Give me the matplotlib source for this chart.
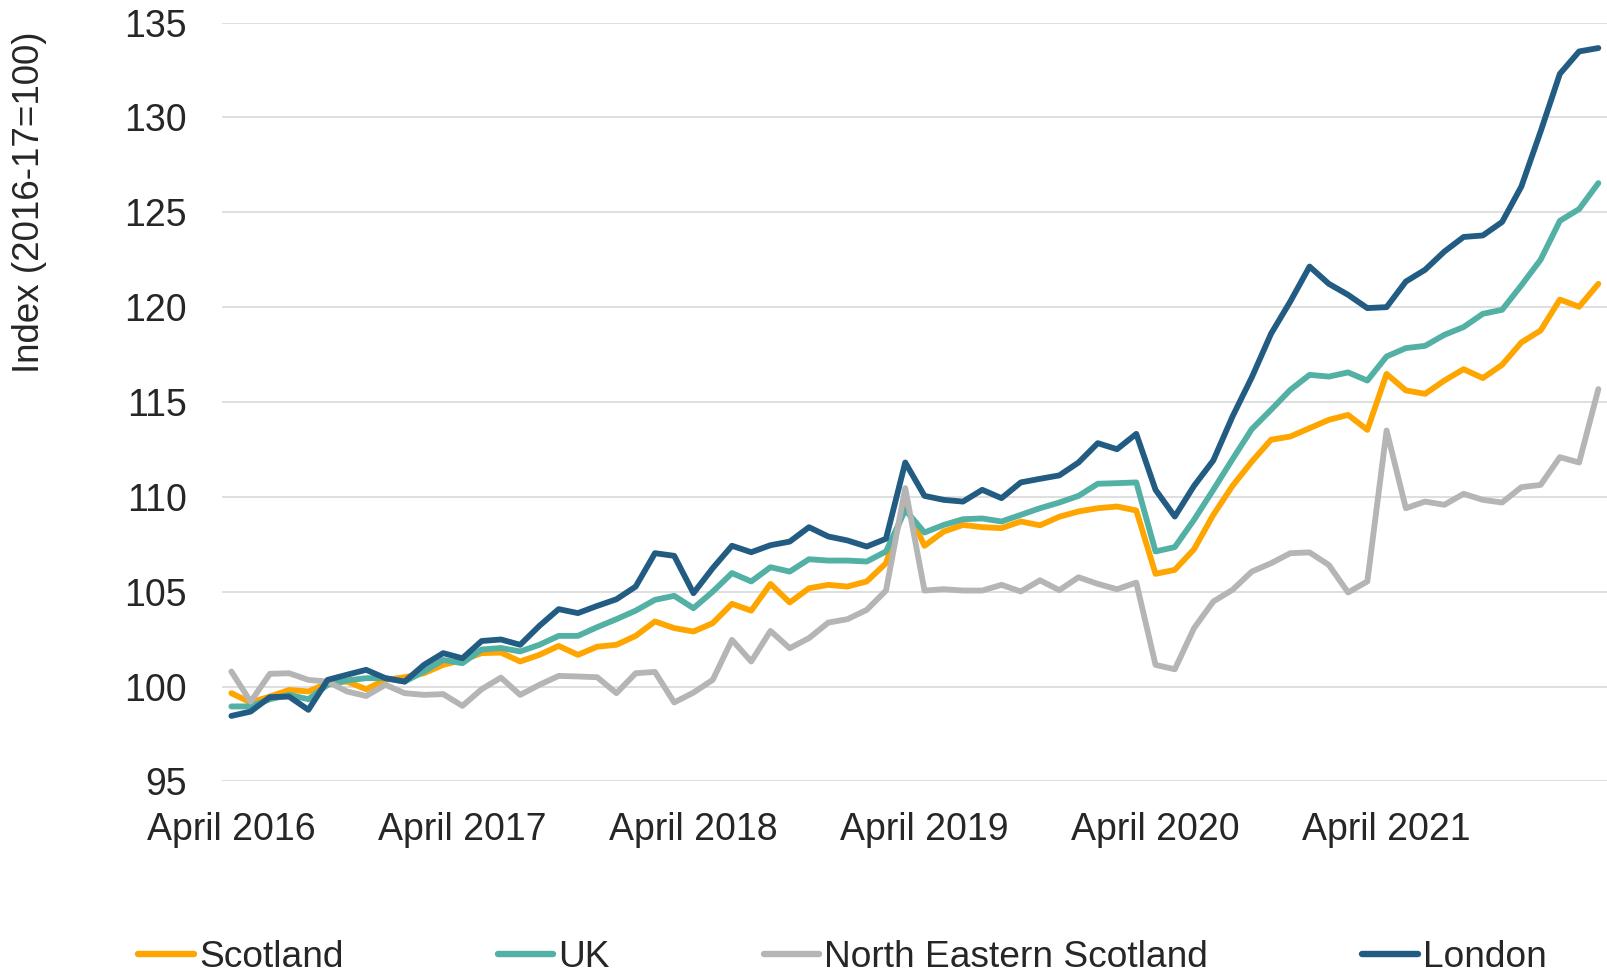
import numpy as np
import matplotlib.pyplot as plt

# monthly index, April 2016 to March 2022 (2016-17 = 100)
scotland = [99.65, 99.16, 99.47, 99.82, 99.74, 100.18, 100.26, 99.86, 100.35, 100.49, 100.7, 101.14,
            101.4, 101.76, 101.79, 101.32, 101.67, 102.14, 101.67, 102.1, 102.2, 102.67, 103.43, 103.08,
            102.9, 103.34, 104.36, 104.0, 105.41, 104.43, 105.18, 105.36, 105.27, 105.54, 106.5, 109.58,
            107.42, 108.17, 108.52, 108.4, 108.35, 108.7, 108.5, 108.95, 109.23, 109.4, 109.49, 109.28,
            105.94, 106.15, 107.24, 109.05, 110.58, 111.86, 113.01, 113.18, 113.62, 114.06, 114.32, 113.53,
            116.48, 115.61, 115.43, 116.13, 116.73, 116.26, 116.96, 118.14, 118.77, 120.4, 120.02, 121.23]
uk = [98.95, 98.95, 99.33, 99.56, 99.33, 100.09, 100.32, 100.44, 100.44, 100.26, 100.79, 101.4,
      101.23, 101.95, 102.03, 101.85, 102.2, 102.67, 102.67, 103.13, 103.55, 104.0, 104.57, 104.78,
      104.13, 105.0, 105.98, 105.54, 106.29, 106.06, 106.71, 106.64, 106.64, 106.59, 107.12, 109.31,
      108.12, 108.52, 108.82, 108.86, 108.7, 109.05, 109.4, 109.7, 110.05, 110.69, 110.72, 110.76,
      107.12, 107.35, 108.79, 110.37, 111.99, 113.57, 114.59, 115.64, 116.43, 116.34, 116.56, 116.13,
      117.4, 117.84, 117.96, 118.54, 118.95, 119.65, 119.86, 121.15, 122.5, 124.55, 125.17, 126.54]
ne_scotland = [100.79, 99.2, 100.67, 100.7, 100.35, 100.26, 99.74, 99.5, 100.09, 99.65, 99.56, 99.6,
               98.98, 99.86, 100.47, 99.56, 100.09, 100.56, 100.53, 100.49, 99.65, 100.7, 100.77, 99.16,
               99.68, 100.35, 102.46, 101.32, 102.93, 102.02, 102.55, 103.37, 103.55, 104.04, 105.06, 110.46,
               105.06, 105.13, 105.06, 105.06, 105.36, 105.01, 105.6, 105.08, 105.76, 105.41, 105.13, 105.48,
               101.14, 100.91, 103.08, 104.48, 105.1, 106.06, 106.5, 107.03, 107.07, 106.41, 104.96, 105.54,
               113.5, 109.4, 109.75, 109.58, 110.16, 109.84, 109.7, 110.51, 110.63, 112.09, 111.81, 115.68]
london = [98.45, 98.68, 99.44, 99.47, 98.77, 100.35, 100.62, 100.88, 100.44, 100.26, 101.14, 101.76,
          101.49, 102.4, 102.48, 102.2, 103.2, 104.08, 103.87, 104.25, 104.6, 105.27, 107.03, 106.89,
          104.92, 106.24, 107.42, 107.08, 107.45, 107.64, 108.4, 107.91, 107.7, 107.38, 107.79, 111.81,
          110.05, 109.84, 109.75, 110.37, 109.93, 110.76, 110.95, 111.13, 111.81, 112.83, 112.51, 113.32,
          110.37, 108.96, 110.58, 111.92, 114.24, 116.3, 118.6, 120.3, 122.14, 121.23, 120.65, 119.95,
          120.0, 121.35, 121.97, 122.93, 123.7, 123.78, 124.49, 126.36, 129.26, 132.3, 133.48, 133.66]

series_names = ['Scotland', 'UK', 'North Eastern Scotland', 'London']
series_colors = ['#FFA500', '#52B0A4', '#B5B5B5', '#235C82']
tick_labels = ['April 2016', 'April 2017', 'April 2018', 'April 2019', 'April 2020', 'April 2021']

plt.rcParams['font.family'] = ['Liberation Sans', 'DejaVu Sans']
TXT = '#262626'

fig = plt.figure(figsize=(16.08, 9.75), dpi=100)
ax = fig.add_axes([0.1379, 0.1986, 0.8621, 0.7782])

x = np.arange(len(scotland))
for vals, name, col in zip([scotland, uk, ne_scotland, london], series_names, series_colors):
    ax.plot(x, vals, color=col, lw=4.2, label=name,
            solid_capstyle='round', solid_joinstyle='round')

ax.set_xlim(-0.5, len(x) - 0.5)
ax.set_ylim(95, 135)
ax.set_yticks(np.arange(95, 136, 5))
ax.set_xticks(np.arange(0, len(x), 12))
ax.set_xticklabels(tick_labels)
ax.grid(axis='y', color='#D9D9D9', lw=1.2)
ax.set_axisbelow(True)
for s in ax.spines.values():
    s.set_visible(False)
ax.tick_params(axis='both', length=0, labelsize=27, colors=TXT)
ax.tick_params(axis='y', pad=25)
ax.tick_params(axis='x', pad=22)

fig.text(30 / 1608, 1 - 202 / 975, 'Index (2016-17=100)', rotation=90,
         ha='center', va='center', fontsize=26.5, color=TXT)

leg = fig.legend(loc='center', bbox_to_anchor=(0.524, 0.018), ncol=4, frameon=False,
                 fontsize=26.7, handlelength=1.5, handletextpad=0.14,
                 columnspacing=4.15, borderpad=0)
for t in leg.get_texts():
    t.set_color(TXT)
for h in leg.legend_handles:
    h.set_linewidth(4.6)

fig.savefig('out.png', dpi=100)
